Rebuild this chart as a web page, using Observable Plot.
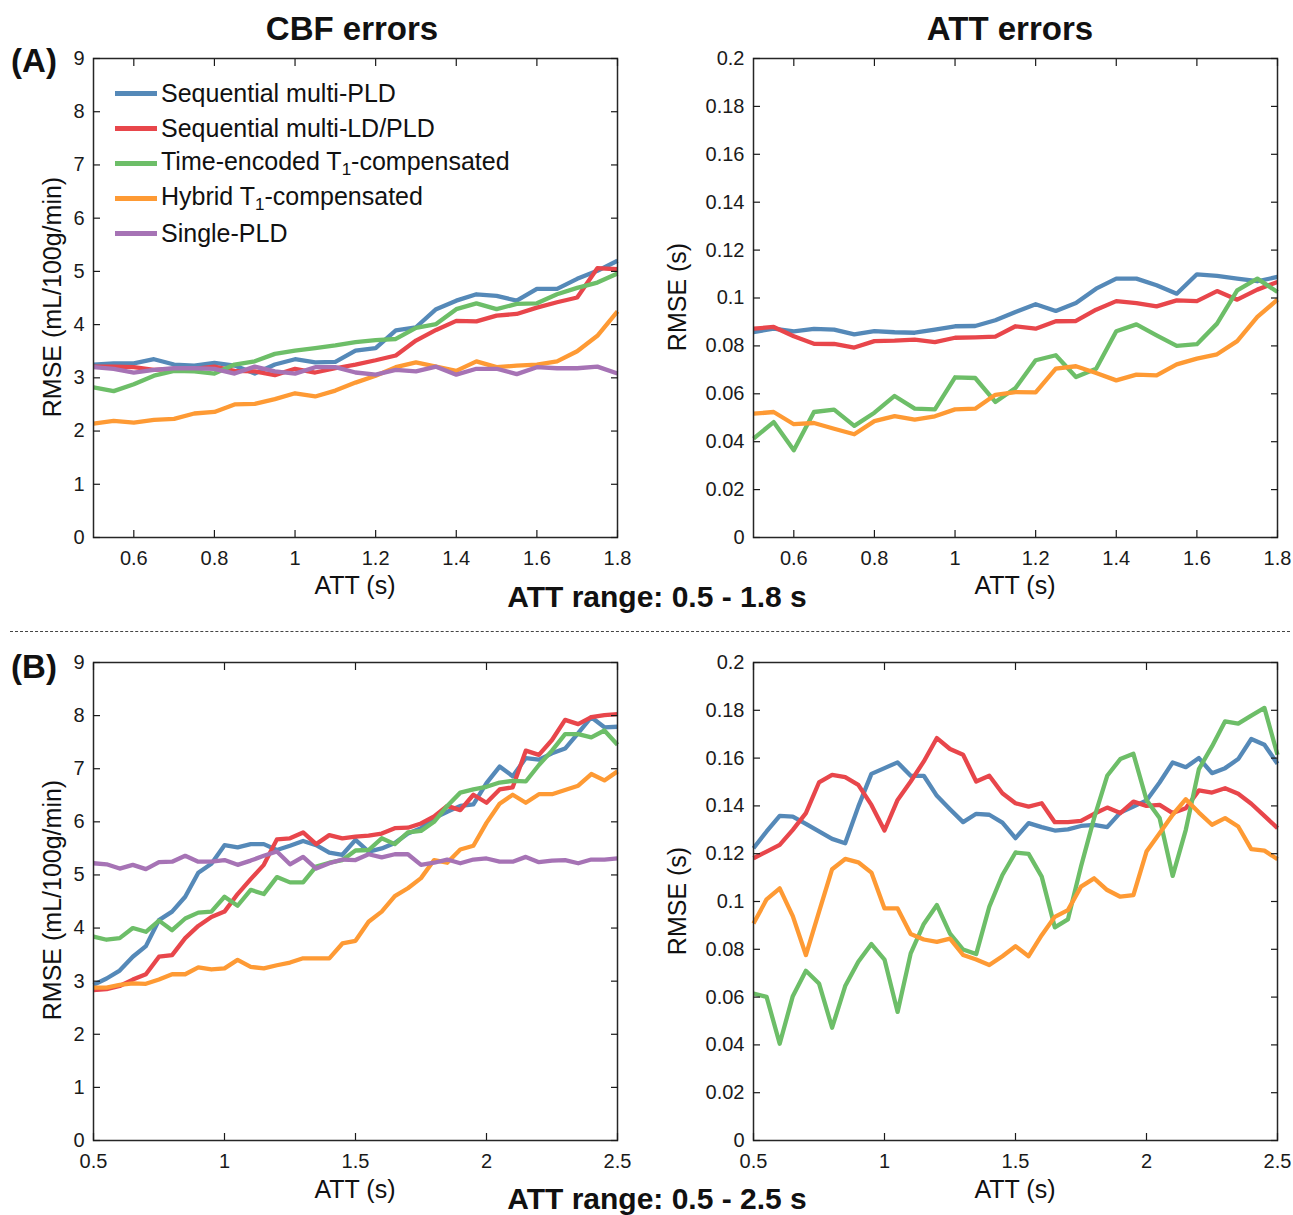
<!DOCTYPE html>
<html>
<head>
<meta charset="utf-8">
<script src="https://cdn.jsdelivr.net/npm/d3@7"></script>
<script src="https://cdn.jsdelivr.net/npm/@observablehq/plot@0.6"></script>
<style>
  html, body { margin: 0; padding: 0; background: #fff; }
  #root { position: relative; width: 1293px; height: 1215px; overflow: hidden; background: #fff;
          font-family: "Liberation Sans", Arial, Helvetica, sans-serif; color: #111; }
  .abs { position: absolute; }
  .txt { position: absolute; white-space: nowrap; line-height: 1; transform: translate(-50%, -50%); }
  .bold { font-weight: bold; }
  .ylab { position: absolute; white-space: nowrap; line-height: 1; font-size: 25px;
          transform: translate(-50%, -50%) rotate(-90deg); }
  .legrow { position: absolute; display: flex; align-items: center; white-space: nowrap; font-size: 25px; line-height: 1; }
  .sw { display: inline-block; width: 42px; height: 5px; margin-right: 4px; }
</style>
</head>
<body>
<div id="root"></div>
<script>
// ---------------- DATA ----------------
const seriesNames = ["Sequential multi-PLD", "Sequential multi-LD/PLD", "Time-encoded T1-compensated", "Hybrid T1-compensated", "Single-PLD"];
const seriesColors = ["#5589b8", "#e8464b", "#6dbe68", "#fe9a34", "#a673b5"];

// ATT grid, range A (0.5 - 1.8 s)
const attA = [0.5,0.55,0.6,0.65,0.7,0.75,0.8,0.85,0.9,0.95,1.0,1.05,1.1,1.15,1.2,1.25,1.3,1.35,1.4,1.45,1.5,1.55,1.6,1.65,1.7,1.75,1.8];
// ATT grid, range B (0.5 - 2.5 s)
const attB = [0.5,0.55,0.6,0.65,0.7,0.75,0.8,0.85,0.9,0.95,1.0,1.05,1.1,1.15,1.2,1.25,1.3,1.35,1.4,1.45,1.5,1.55,1.6,1.65,1.7,1.75,1.8,1.85,1.9,1.95,2.0,2.05,2.1,2.15,2.2,2.25,2.3,2.35,2.4,2.45,2.5];

// (A) CBF RMSE (mL/100g/min)
const cbfA_seqPLD   = [3.25,3.27,3.27,3.35,3.25,3.23,3.28,3.23,3.08,3.25,3.35,3.29,3.30,3.51,3.56,3.89,3.95,4.29,4.45,4.57,4.54,4.45,4.67,4.67,4.86,5.01,5.20];
const cbfA_seqLDPLD = [3.21,3.21,3.20,3.15,3.17,3.17,3.21,3.13,3.12,3.05,3.17,3.10,3.18,3.25,3.33,3.42,3.70,3.90,4.07,4.06,4.17,4.20,4.32,4.42,4.51,5.06,5.04];
const cbfA_timeEnc  = [2.82,2.75,2.88,3.04,3.13,3.12,3.08,3.25,3.31,3.45,3.51,3.56,3.61,3.67,3.71,3.73,3.94,4.01,4.29,4.40,4.29,4.39,4.40,4.57,4.69,4.79,4.96];
const cbfA_hybrid   = [2.14,2.19,2.16,2.21,2.23,2.33,2.36,2.50,2.51,2.60,2.71,2.65,2.76,2.91,3.04,3.20,3.29,3.21,3.13,3.31,3.20,3.23,3.25,3.31,3.50,3.79,4.25];
const cbfA_single   = [3.20,3.17,3.10,3.15,3.18,3.18,3.17,3.08,3.21,3.12,3.08,3.20,3.20,3.10,3.06,3.15,3.12,3.21,3.06,3.17,3.17,3.07,3.20,3.18,3.18,3.21,3.08];

// (A) ATT RMSE (s)
const attErrA_seqPLD   = [0.0858,0.0872,0.0861,0.0871,0.0868,0.0848,0.0862,0.0857,0.0855,0.0868,0.0882,0.0883,0.0907,0.0942,0.0974,0.0946,0.0979,0.1039,0.1081,0.1081,0.1053,0.1018,0.1099,0.1092,0.1081,0.1070,0.1088];
const attErrA_seqLDPLD = [0.0872,0.0879,0.0840,0.0809,0.0808,0.0793,0.0820,0.0822,0.0826,0.0816,0.0834,0.0836,0.0839,0.0882,0.0872,0.0903,0.0904,0.0951,0.0987,0.0979,0.0965,0.0990,0.0987,0.1029,0.0993,0.1035,0.1067];
const attErrA_timeEnc  = [0.0413,0.0482,0.0364,0.0524,0.0534,0.0466,0.0521,0.0591,0.0538,0.0535,0.0669,0.0666,0.0566,0.0624,0.0740,0.0761,0.0670,0.0705,0.0861,0.0890,0.0844,0.0800,0.0807,0.0893,0.1032,0.1081,0.1025];
const attErrA_hybrid   = [0.0517,0.0524,0.0473,0.0478,0.0454,0.0431,0.0486,0.0507,0.0492,0.0506,0.0535,0.0538,0.0596,0.0607,0.0606,0.0705,0.0715,0.0687,0.0656,0.0680,0.0677,0.0723,0.0747,0.0765,0.0820,0.0921,0.0993];

// (B) CBF RMSE (mL/100g/min)
const cbfB_seqPLD   = [2.93,3.05,3.20,3.46,3.66,4.15,4.31,4.59,5.04,5.21,5.56,5.52,5.58,5.58,5.47,5.55,5.64,5.56,5.42,5.38,5.66,5.44,5.50,5.60,5.78,5.88,6.07,6.19,6.30,6.33,6.73,7.04,6.86,7.20,7.17,7.29,7.38,7.67,7.97,7.78,7.79];
const cbfB_seqLDPLD = [2.83,2.85,2.91,3.03,3.13,3.46,3.49,3.81,4.04,4.21,4.31,4.64,4.92,5.19,5.67,5.69,5.80,5.58,5.75,5.69,5.72,5.74,5.78,5.88,5.89,5.97,6.10,6.30,6.22,6.51,6.36,6.61,6.65,7.34,7.26,7.54,7.92,7.84,7.97,8.01,8.03];
const cbfB_timeEnc  = [3.84,3.78,3.81,4.00,3.93,4.14,3.96,4.18,4.29,4.31,4.59,4.42,4.72,4.64,4.96,4.86,4.86,5.16,5.23,5.28,5.46,5.47,5.69,5.58,5.80,5.83,6.00,6.30,6.55,6.61,6.66,6.74,6.77,6.76,7.07,7.34,7.65,7.65,7.59,7.72,7.45];
const cbfB_hybrid   = [2.88,2.88,2.93,2.96,2.95,3.03,3.13,3.13,3.26,3.22,3.24,3.40,3.27,3.24,3.30,3.35,3.43,3.43,3.43,3.71,3.76,4.12,4.31,4.60,4.75,4.94,5.28,5.23,5.48,5.55,5.98,6.34,6.51,6.36,6.52,6.52,6.60,6.68,6.90,6.78,6.95];
const cbfB_single   = [5.22,5.20,5.12,5.19,5.11,5.24,5.25,5.36,5.25,5.25,5.28,5.19,5.27,5.36,5.44,5.20,5.34,5.12,5.22,5.29,5.28,5.39,5.33,5.39,5.39,5.19,5.23,5.29,5.22,5.29,5.31,5.25,5.25,5.34,5.24,5.27,5.28,5.22,5.29,5.29,5.31];

// (B) ATT RMSE (s)
const attErrB_seqPLD   = [0.1223,0.1293,0.1358,0.1355,0.1325,0.1293,0.1262,0.1244,0.1397,0.1534,0.1558,0.1582,0.1526,0.1526,0.1442,0.1386,0.1332,0.1367,0.1363,0.1330,0.1265,0.1328,0.1311,0.1297,0.1302,0.1316,0.1321,0.1311,0.1372,0.1397,0.1423,0.1498,0.1582,0.1562,0.1600,0.1537,0.1558,0.1596,0.1680,0.1656,0.1576];
const attErrB_seqLDPLD = [0.1181,0.1209,0.1237,0.1300,0.1370,0.1498,0.1530,0.1520,0.1488,0.1404,0.1297,0.1425,0.1502,0.1586,0.1684,0.1638,0.1614,0.1502,0.1526,0.1453,0.1411,0.1397,0.1411,0.1332,0.1332,0.1337,0.1367,0.1393,0.1370,0.1418,0.1400,0.1404,0.1370,0.1390,0.1465,0.1456,0.1474,0.1451,0.1409,0.1358,0.1307];
const attErrB_timeEnc  = [0.0615,0.0601,0.0405,0.0604,0.0710,0.0657,0.0472,0.0646,0.0748,0.0822,0.0757,0.0538,0.0783,0.0906,0.0985,0.0866,0.0799,0.0780,0.0978,0.1111,0.1205,0.1199,0.1104,0.0892,0.0925,0.1146,0.1349,0.1526,0.1596,0.1618,0.1425,0.1349,0.1107,0.1300,0.1554,0.1649,0.1754,0.1744,0.1778,0.1810,0.1614];
const attErrB_hybrid   = [0.0908,0.1009,0.1055,0.0939,0.0776,0.0957,0.1135,0.1178,0.1164,0.1121,0.0971,0.0971,0.0864,0.0841,0.0831,0.0845,0.0776,0.0757,0.0734,0.0771,0.0813,0.0771,0.0859,0.0936,0.0964,0.1062,0.1097,0.1048,0.1020,0.1027,0.1209,0.1286,0.1363,0.1428,0.1372,0.1321,0.1349,0.1314,0.1219,0.1213,0.1177];

// Tick labels
const xTicksA = [0.6, 0.8, 1, 1.2, 1.4, 1.6, 1.8];
const xTicksB = [0.5, 1, 1.5, 2, 2.5];
const yTicksCBF = [0, 1, 2, 3, 4, 5, 6, 7, 8, 9];
const yTicksATT = [0, 0.02, 0.04, 0.06, 0.08, 0.1, 0.12, 0.14, 0.16, 0.18, 0.2];

// ---------------- DRAW ----------------
const root = document.getElementById("root");
const FONT = '"Liberation Sans", Arial, Helvetica, sans-serif';

function panel({x, series, xDomain, xTicks, yDomain, yTicks, left, top, width, height, mL, mR, mT, mB}) {
  const rows = [];
  series.forEach(([name, vals]) => vals.forEach((v, i) => rows.push({att: x[i], rmse: v, method: name})));
  const fmt = d => String(d);
  const chart = Plot.plot({
    width, height,
    marginLeft: mL, marginRight: mR, marginTop: mT, marginBottom: mB,
    style: {fontFamily: FONT, fontSize: "20px", color: "#1a1a1a", background: "transparent", overflow: "visible"},
    x: {domain: xDomain},
    y: {domain: yDomain},
    color: {domain: seriesNames, range: seriesColors},
    marks: [
      Plot.line(rows, {x: "att", y: "rmse", z: "method", stroke: "method", strokeWidth: 4.3, strokeLinejoin: "round", strokeLinecap: "butt"}),
      Plot.frame({stroke: "#262626", strokeWidth: 1.5}),
      Plot.axisX({ticks: xTicks, tickSize: -7, tickPadding: 20, tickFormat: fmt, label: null, strokeWidth: 1.2}),
      Plot.axisX({anchor: "top", ticks: xTicks, tickSize: -7, tickFormat: () => "", label: null, strokeWidth: 1.2}),
      Plot.axisY({ticks: yTicks, tickSize: -7, tickPadding: 16, tickFormat: fmt, label: null, strokeWidth: 1.2}),
      Plot.axisY({anchor: "right", ticks: yTicks, tickSize: -7, tickFormat: () => "", label: null, strokeWidth: 1.2})
    ]
  });
  const wrap = document.createElement("div");
  wrap.className = "abs";
  wrap.style.left = left + "px";
  wrap.style.top = top + "px";
  wrap.appendChild(chart);
  root.appendChild(wrap);
}

const namesCBF = seriesNames;
panel({
  x: attA, xDomain: [0.5, 1.8], xTicks: xTicksA, yDomain: [0, 9], yTicks: yTicksCBF,
  series: [[namesCBF[0], cbfA_seqPLD], [namesCBF[1], cbfA_seqLDPLD], [namesCBF[2], cbfA_timeEnc], [namesCBF[3], cbfA_hybrid], [namesCBF[4], cbfA_single]],
  left: 0, top: 0, width: 640, height: 620, mL: 93, mR: 23, mT: 58, mB: 83
});
panel({
  x: attA, xDomain: [0.5, 1.8], xTicks: xTicksA, yDomain: [0, 0.2], yTicks: yTicksATT,
  series: [[namesCBF[0], attErrA_seqPLD], [namesCBF[1], attErrA_seqLDPLD], [namesCBF[2], attErrA_timeEnc], [namesCBF[3], attErrA_hybrid]],
  left: 640, top: 0, width: 653, height: 620, mL: 113, mR: 16, mT: 58, mB: 83
});
panel({
  x: attB, xDomain: [0.5, 2.5], xTicks: xTicksB, yDomain: [0, 9], yTicks: yTicksCBF,
  series: [[namesCBF[0], cbfB_seqPLD], [namesCBF[1], cbfB_seqLDPLD], [namesCBF[2], cbfB_timeEnc], [namesCBF[3], cbfB_hybrid], [namesCBF[4], cbfB_single]],
  left: 0, top: 620, width: 640, height: 595, mL: 93, mR: 23, mT: 42, mB: 75
});
panel({
  x: attB, xDomain: [0.5, 2.5], xTicks: xTicksB, yDomain: [0, 0.2], yTicks: yTicksATT,
  series: [[namesCBF[0], attErrB_seqPLD], [namesCBF[1], attErrB_seqLDPLD], [namesCBF[2], attErrB_timeEnc], [namesCBF[3], attErrB_hybrid]],
  left: 640, top: 620, width: 653, height: 595, mL: 113, mR: 16, mT: 42, mB: 75
});

// ---------------- TEXT ----------------
function txt(html, x, y, size, bold) {
  const d = document.createElement("div");
  d.className = "txt" + (bold ? " bold" : "");
  d.style.left = x + "px"; d.style.top = y + "px"; d.style.fontSize = size + "px";
  d.innerHTML = html;
  root.appendChild(d);
}
function ylab(html, x, y) {
  const d = document.createElement("div");
  d.className = "ylab";
  d.style.left = x + "px"; d.style.top = y + "px";
  d.innerHTML = html;
  root.appendChild(d);
}

txt("CBF errors", 352, 28, 33, true);
txt("ATT errors", 1010, 28, 33, true);
txt("(A)", 34, 60, 33, true);
txt("(B)", 34, 666, 33, true);
txt("ATT range: 0.5 - 1.8 s", 657, 597, 30, true);
txt("ATT range: 0.5 - 2.5 s", 657, 1199, 30, true);
txt("ATT (s)", 355, 585, 25, false);
txt("ATT (s)", 1015, 585, 25, false);
txt("ATT (s)", 355, 1189, 25, false);
txt("ATT (s)", 1015, 1189, 25, false);
ylab("RMSE (mL/100g/min)", 52, 297);
ylab("RMSE (s)", 677, 297);
ylab("RMSE (mL/100g/min)", 52, 900);
ylab("RMSE (s)", 677, 901);

// dashed separator
const sep = document.createElement("div");
sep.className = "abs";
sep.style.left = "10px"; sep.style.top = "631px"; sep.style.width = "1280px"; sep.style.height = "0";
sep.style.borderTop = "1.5px dashed #444";
root.appendChild(sep);

// legend
const legendLabels = ["Sequential multi-PLD", "Sequential multi-LD/PLD", "Time-encoded T<sub style=\"font-size:17px;vertical-align:-5px\">1</sub>-compensated", "Hybrid T<sub style=\"font-size:17px;vertical-align:-5px\">1</sub>-compensated", "Single-PLD"];
legendLabels.forEach((lab, i) => {
  const r = document.createElement("div");
  r.className = "legrow";
  r.style.left = "115px";
  r.style.top = (93 + 35 * i - 12) + "px";
  r.style.height = "24px";
  r.innerHTML = `<span class="sw" style="background:${seriesColors[i]}"></span><span>${lab}</span>`;
  root.appendChild(r);
});
</script>
</body>
</html>
